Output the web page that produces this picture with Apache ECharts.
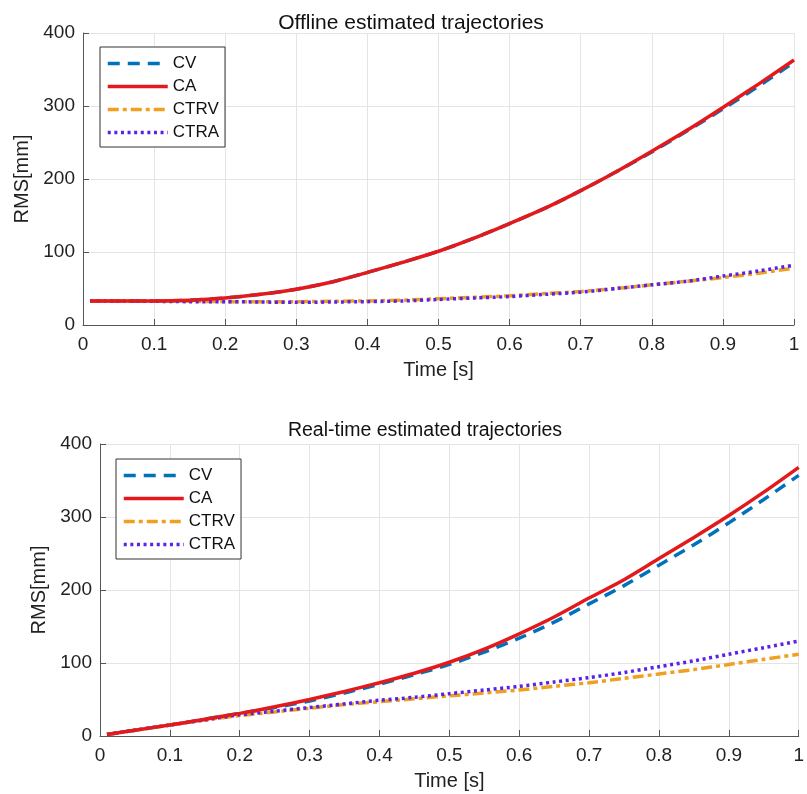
<!DOCTYPE html>
<html>
<head>
    <meta charset="utf-8">
    <title>RMS trajectories</title>
    <script src="https://cdn.jsdelivr.net/npm/echarts@6/dist/echarts.min.js"></script>
    <style>
        body { margin: 0; background: #fff; }
    </style>
</head>
<body>
<div id="main" style="width: 807px;height:794px;"></div>

<script type="text/javascript">
    // time axis (s)
    var time = [0.01, 0.05, 0.1, 0.15, 0.2, 0.25, 0.3, 0.35, 0.4, 0.45, 0.5,
                0.55, 0.6, 0.65, 0.7, 0.75, 0.8, 0.85, 0.9, 0.95, 1.0];

    // offline estimated trajectories
    var offCV   = [33, 33, 33, 34, 37, 42, 49, 59, 72, 86, 101, 119, 139, 160, 184, 210, 237, 266, 296, 327, 360];
    var offCA   = [33, 33, 33, 34, 37, 42, 49, 59, 72, 86, 101, 119, 139, 160, 184, 210, 238, 267, 298, 330, 363];
    var offCTRV = [33, 33, 33, 32.5, 32, 32, 32, 32.5, 33, 34, 36, 38, 40, 43, 46, 50, 55, 60, 65, 71, 78];
    var offCTRA = [33, 33, 32.5, 32, 32, 31.5, 31, 31.5, 32, 33, 35, 37, 39, 42, 45, 50, 55, 60, 67, 74, 82];

    // real-time estimated trajectories
    var rtCV   = [2, 8, 15, 23, 31, 39, 48, 59, 71, 84, 98, 115, 134, 156, 181, 206, 234, 262, 292, 324, 357];
    var rtCA   = [2, 8, 15, 23, 31, 40, 50, 61, 73, 86, 101, 119, 140, 163, 189, 214, 243, 272, 302, 334, 368];
    var rtCTRV = [2, 8, 15, 22, 28, 33, 38, 43, 47, 51, 55, 59, 63, 68, 73, 79, 85, 91, 98, 105, 112];
    var rtCTRA = [2, 8, 15, 22, 29, 34, 39, 44, 49, 53, 58, 63, 68, 74, 80, 87, 95, 103, 112, 121, 130];

    var names = ['CV', 'CA', 'CTRV', 'CTRA'];
    var colors = ['#0072BD', '#E3191C', '#EFA021', '#5A22E8'];
    var dashes = [[12, 8], 'solid', [11, 4, 4, 4], [3, 3.6]];

    var fontFam = '"Liberation Sans", Arial, sans-serif';

    function pairs(ys) {
        var out = [];
        for (var i = 0; i < time.length; i++) {
            out.push([time[i], ys[i]]);
        }
        return out;
    }

    function mkSeries(idx, ys, k) {
        return {
            name: names[k],
            type: 'line',
            xAxisIndex: idx,
            yAxisIndex: idx,
            data: pairs(ys),
            showSymbol: false,
            symbol: 'none',
            smooth: 0.3,
            z: k == 1 ? 3 : 2,
            lineStyle: {
                color: colors[k],
                width: 3.5,
                type: dashes[k]
            },
            itemStyle: { color: colors[k] }
        };
    }

    function mkX(idx) {
        return {
            type: 'value',
            gridIndex: idx,
            min: 0,
            max: 1,
            interval: 0.1,
            name: 'Time [s]',
            nameLocation: 'middle',
            nameGap: 35,
            nameTextStyle: { color: '#222', fontSize: 20, fontFamily: fontFam },
            axisLine: { lineStyle: { color: '#555', width: 1 } },
            axisTick: { inside: true, length: 6, lineStyle: { color: '#555' } },
            axisLabel: {
                color: '#222', fontSize: 19, fontFamily: fontFam, margin: 10,
                formatter: function (v) { return String(Math.round(v * 10) / 10); }
            },
            splitLine: { show: true, lineStyle: { color: '#e4e4e4' } }
        };
    }

    function mkY(idx) {
        return {
            type: 'value',
            gridIndex: idx,
            min: 0,
            max: 400,
            interval: 100,
            name: 'RMS[mm]',
            nameLocation: 'middle',
            nameGap: 48,
            nameTextStyle: { color: '#222', fontSize: 20, fontFamily: fontFam },
            axisLine: { show: true, lineStyle: { color: '#555', width: 1 } },
            axisTick: { show: true, inside: true, length: 6, lineStyle: { color: '#555' } },
            axisLabel: { color: '#222', fontSize: 19, fontFamily: fontFam, margin: 8 },
            splitLine: { show: true, lineStyle: { color: '#e4e4e4' } }
        };
    }

    function mkLegend(left, top) {
        return {
            orient: 'vertical',
            left: left,
            top: top,
            data: names,
            itemWidth: 60,
            itemHeight: 14,
            itemGap: 6,
            padding: [8, 6, 6, 6],
            borderColor: '#333',
            borderWidth: 1,
            backgroundColor: '#fff',
            selectedMode: false,
            itemStyle: { opacity: 0 },
            lineStyle: { width: 3.5 },
            textStyle: { color: '#111', fontSize: 17, lineHeight: 14, fontFamily: fontFam }
        };
    }

    var myChart = echarts.init(document.getElementById('main'));

    var allSeries = [];
    var offData = [offCV, offCA, offCTRV, offCTRA];
    var rtData = [rtCV, rtCA, rtCTRV, rtCTRA];
    for (var k = 0; k < 4; k++) {
        allSeries.push(mkSeries(0, offData[k], k));
    }
    for (var k = 0; k < 4; k++) {
        allSeries.push(mkSeries(1, rtData[k], k));
    }

    myChart.setOption({
        animation: false,
        backgroundColor: '#fff',
        title: [
            {
                text: 'Offline estimated trajectories',
                left: 406, top: 8, textAlign: 'center',
                textStyle: { color: '#111', fontSize: 21, fontWeight: 'normal', fontFamily: fontFam }
            },
            {
                text: 'Real-time estimated trajectories',
                left: 420, top: 416, textAlign: 'center',
                textStyle: { color: '#111', fontSize: 19.5, fontWeight: 'normal', fontFamily: fontFam }
            }
        ],
        legend: [mkLegend(100, 47), mkLegend(116, 459)],
        grid: [
            { left: 83, right: 13, top: 33, height: 292 },
            { left: 100, right: 1, top: 444, height: 292 }
        ],
        xAxis: [mkX(0), mkX(1)],
        yAxis: [mkY(0), mkY(1)],
        series: allSeries
    });
</script>
</body>
</html>
